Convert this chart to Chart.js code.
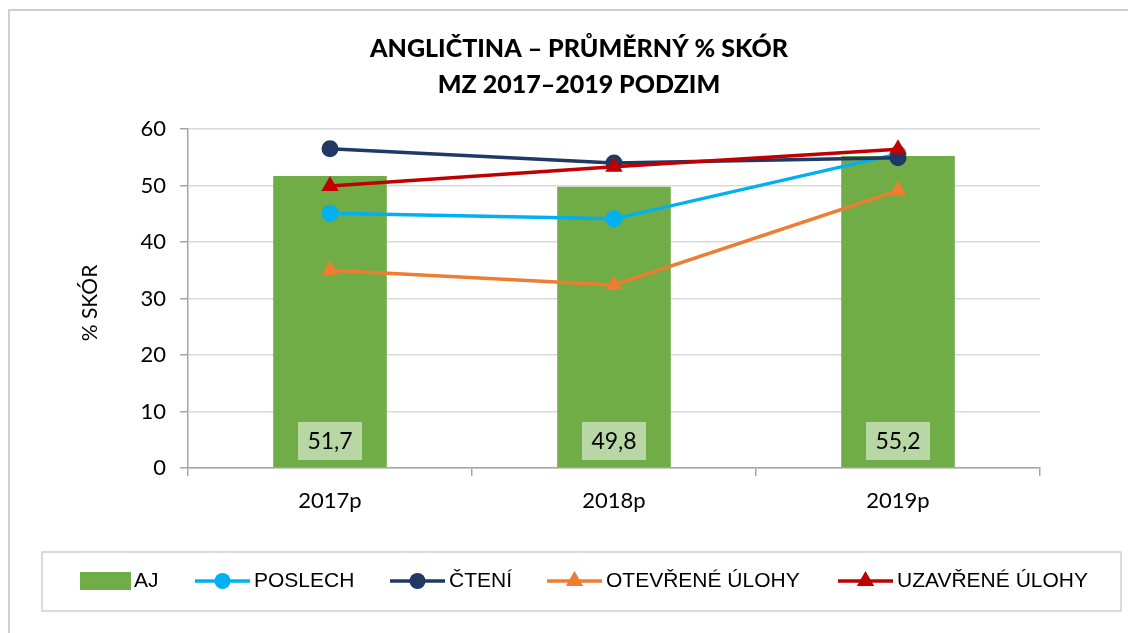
<!DOCTYPE html>
<html>
<head>
<meta charset="utf-8">
<script src="https://cdn.jsdelivr.net/npm/chart.js@4.4.1/dist/chart.umd.min.js"></script>
<style>
  html, body { margin: 0; padding: 0; background: #fff; }
  #wrap { width: 1128px; height: 633px; }
</style>
</head>
<body>
<div id="wrap"><canvas id="chart" width="1128" height="633"></canvas></div>
<script>
// data
const years = ['2017p', '2018p', '2019p'];
const aj = [51.7, 49.8, 55.2];
const poslech = [45.1, 44.1, 55.6];
const cteni = [56.5, 54.0, 54.9];
const otevrene = [35.0, 32.4, 49.1];
const uzavrene = [49.9, 53.3, 56.4];
const yTicks = [0, 10, 20, 30, 40, 50, 60];

const titleLines = ['ANGLIČTINA – PRŮMĚRNÝ % SKÓR', 'MZ 2017–2019 PODZIM'];
const yTitle = '% SKÓR';

const GREEN = '#70AD47';
const CYAN = '#00B0F0';
const NAVY = '#1F3864';
const ORANGE = '#ED7D31';
const RED = '#C00000';

const tickFont = "Lato, 'Open Sans', sans-serif";
const legendFont = "'Liberation Sans', Arial, sans-serif";

function lineSet(label, data, color, style, order) {
  return {
    type: 'line',
    label: label,
    data: data,
    borderColor: color,
    backgroundColor: color,
    borderWidth: 3.5,
    pointStyle: style,
    pointRadius: style === 'triangle' ? 10 : 8.5,
    pointBorderWidth: 0,
    tension: 0,
    order: order
  };
}

const decoPlugin = {
  id: 'deco',
  beforeDraw(chart) {
    const ctx = chart.ctx;
    ctx.save();
    ctx.fillStyle = '#fff';
    ctx.fillRect(0, 0, chart.width, chart.height);
    // outer frame (only top and left are in view)
    ctx.strokeStyle = '#d0d0d0';
    ctx.lineWidth = 2;
    ctx.beginPath();
    ctx.moveTo(9, chart.height);
    ctx.lineTo(9, 10);
    ctx.lineTo(chart.width, 10);
    ctx.stroke();
    ctx.restore();
  },
  afterDraw(chart) {
    const ctx = chart.ctx;
    const y = chart.scales.y;
    ctx.save();

    // title
    ctx.fillStyle = '#000';
    ctx.textAlign = 'center';
    ctx.textBaseline = 'middle';
    ctx.font = "900 25px " + tickFont;
    ctx.fillText(titleLines[0], 579, 49);
    ctx.fillText(titleLines[1], 579, 85);

    // y-axis title
    ctx.save();
    ctx.translate(90, 303);
    ctx.rotate(-Math.PI / 2);
    ctx.font = "21px " + tickFont;
    ctx.fillText(yTitle, 0, 0);
    ctx.restore();

    // value boxes on the bars
    const bars = chart.getDatasetMeta(0).data;
    ctx.font = "23px " + tickFont;
    bars.forEach((bar, i) => {
      const cy = y.getPixelForValue(0) - 27;
      ctx.fillStyle = '#B8D7A5';
      ctx.fillRect(bar.x - 32, cy - 19, 64, 38);
      ctx.fillStyle = '#000';
      ctx.fillText(aj[i].toFixed(1).replace('.', ','), bar.x, cy + 1);
    });

    // legend
    ctx.strokeStyle = '#d0d0d0';
    ctx.lineWidth = 1.5;
    ctx.strokeRect(42, 552, 1079, 59);
    const ly = 581;
    ctx.textAlign = 'left';
    ctx.font = "21px " + legendFont;
    ctx.fillStyle = GREEN;
    ctx.fillRect(80, 572, 51, 18);
    ctx.fillStyle = '#000';
    ctx.fillText('AJ', 134, ly);
    const items = [[1, 195], [2, 390], [3, 547], [4, 838]];
    items.forEach(([di, x0]) => {
      const ds = chart.data.datasets[di];
      ctx.strokeStyle = ds.borderColor;
      ctx.lineWidth = 3.5;
      ctx.beginPath();
      ctx.moveTo(x0, ly);
      ctx.lineTo(x0 + 55, ly);
      ctx.stroke();
      ctx.fillStyle = ds.borderColor;
      const cx = x0 + 27.5;
      ctx.beginPath();
      if (ds.pointStyle === 'triangle') {
        ctx.moveTo(cx, ly - 10);
        ctx.lineTo(cx + 8.7, ly + 5);
        ctx.lineTo(cx - 8.7, ly + 5);
        ctx.closePath();
      } else {
        ctx.arc(cx, ly, 8, 0, Math.PI * 2);
      }
      ctx.fill();
      ctx.fillStyle = '#000';
      ctx.fillText(ds.label, x0 + 59, ly);
    });
    ctx.restore();
  }
};

new Chart(document.getElementById('chart'), {
  data: {
    labels: years,
    datasets: [
      {
        type: 'bar',
        label: 'AJ',
        data: aj,
        backgroundColor: GREEN,
        barPercentage: 0.4,
        categoryPercentage: 1,
        order: 10
      },
      lineSet('POSLECH', poslech, CYAN, 'circle', 3),
      lineSet('ČTENÍ', cteni, NAVY, 'circle', 2),
      lineSet('OTEVŘENÉ ÚLOHY', otevrene, ORANGE, 'triangle', 4),
      lineSet('UZAVŘENÉ ÚLOHY', uzavrene, RED, 'triangle', 1)
    ]
  },
  options: {
    responsive: false,
    animation: false,
    layout: { padding: { left: 60, top: 129, right: 88, bottom: 0 } },
    plugins: {
      legend: { display: false },
      title: { display: false },
      tooltip: { enabled: false }
    },
    scales: {
      x: {
        grid: { offset: true, drawOnChartArea: false, tickLength: 8, color: '#a6a6a6', lineWidth: 1.5 },
        border: { color: '#a6a6a6', width: 1.5 },
        ticks: { color: '#000', font: { family: tickFont, size: 22 }, padding: 12 },
        afterFit(scale) { scale.height = 165; }
      },
      y: {
        min: 0,
        max: 60,
        afterBuildTicks(scale) { scale.ticks = yTicks.map(v => ({ value: v })); },
        grid: { color: '#d9d9d9', lineWidth: 1.5, tickLength: 8, tickColor: '#a6a6a6' },
        border: { color: '#a6a6a6', width: 1.5 },
        ticks: { color: '#000', font: { family: tickFont, size: 22 }, padding: 14 },
        afterFit(scale) { scale.width = 128; }
      }
    }
  },
  plugins: [decoPlugin]
});
</script>
</body>
</html>
